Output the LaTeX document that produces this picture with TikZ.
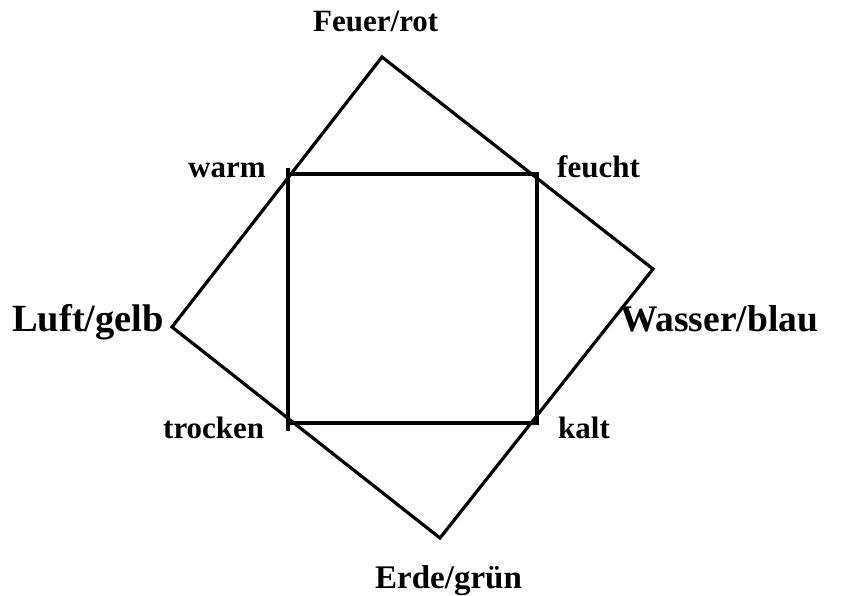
\documentclass[tikz,border=0pt]{standalone}
\usepackage{fontspec}
\setmainfont{Liberation Serif}
\begin{document}
\begin{tikzpicture}[x=1pt,y=-1pt,
  edge/.style={line width=3.2pt,line join=miter},
  lbl/.style={font=\fontsize{31}{36}\selectfont\bfseries,inner sep=0pt,anchor=base west},
  fs/.style={font=\fontsize{#1}{#1}\selectfont\bfseries}]
\useasboundingbox (0,0) rectangle (848,596);
% diamond corners
\coordinate (F) at (382,57);
\coordinate (W) at (653,269);
\coordinate (E) at (440,538);
\coordinate (L) at (172,327);
% square corners
\coordinate (a) at (288,174);
\coordinate (b) at (537,174);
\coordinate (c) at (537,423);
\coordinate (d) at (288,423);
\coordinate (a1) at (288,168);
\coordinate (d1) at (288,431);
\draw[edge] (F) -- (W) -- (E) -- (L) -- cycle;
\draw[edge] (a) -- (b) -- (c) -- (d);
\draw[edge] (a1) -- (d1);
% labels
\node[lbl] (tF) at (313,32) {Feuer/rot};
\node[lbl,fs=37.5] (tW) at (620,331) {Wasser/blau};
\node[lbl,fs=33] (tE) at (375,588) {Erde/grün};
\node[lbl,fs=38.5] (tL) at (12,331) {Luft/gelb};
\node[lbl] (ta) at (188,178) {warm};
\node[lbl] (tb) at (557,178) {feucht};
\node[lbl] (tc) at (558,438) {kalt};
\node[lbl] (td) at (163,438) {trocken};
\end{tikzpicture}
\end{document}
